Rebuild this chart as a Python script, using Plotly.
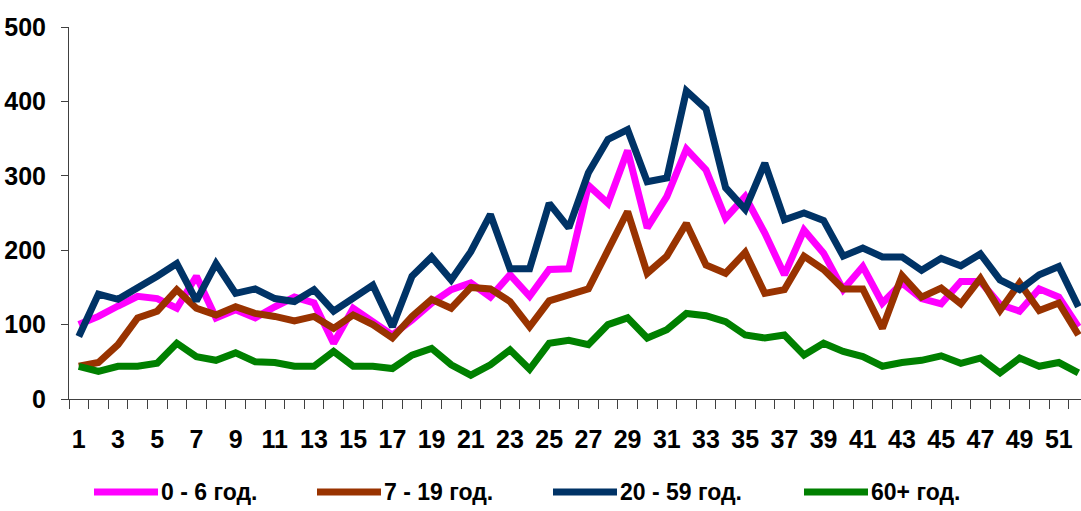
import plotly.graph_objects as go

weeks = list(range(1, 53))
x_labels = [str(w) for w in range(1, 52, 2)]
y_ticks = [0, 100, 200, 300, 400, 500]

series_names = ["0 - 6 год.", "7 - 19 год.", "20 - 59 год.", "60+ год."]
series_colors = ["#FF00FF", "#993300", "#003366", "#008000"]

age_0_6 = [100, 111, 125, 138, 135, 122, 165, 109, 120, 109,
           124, 137, 129, 75, 122, 104, 86, 106, 129, 147,
           156, 137, 167, 138, 174, 175, 287, 263, 334, 230,
           272, 336, 308, 243, 272, 223, 167, 227, 196, 147,
           178, 129, 156, 135, 128, 158, 158, 127, 118, 148,
           137, 97]
age_7_19 = [44, 49, 73, 109, 118, 147, 122, 113, 124, 115,
            111, 105, 111, 95, 113, 100, 82, 111, 134, 122,
            150, 148, 131, 97, 132, 140, 148, 200, 252, 169,
            192, 236, 180, 169, 197, 142, 147, 192, 174, 148,
            148, 95, 166, 137, 149, 128, 162, 119, 156, 119,
            129, 86]
age_20_59 = [84, 141, 134, 149, 165, 182, 132, 182, 142, 148,
             135, 131, 147, 118, 135, 153, 97, 165, 191, 160,
             198, 248, 175, 175, 263, 230, 304, 349, 362, 292,
             297, 414, 390, 284, 255, 317, 241, 250, 240, 192,
             203, 191, 191, 173, 189, 179, 195, 160, 147, 167,
             178, 124]
age_60 = [44, 37, 44, 44, 48, 75, 57, 52, 62, 50,
          49, 44, 44, 64, 44, 44, 41, 59, 68, 46,
          32, 46, 66, 40, 75, 79, 73, 100, 109, 82,
          93, 115, 112, 104, 86, 82, 86, 59, 75, 64,
          57, 44, 49, 52, 58, 48, 55, 35, 55, 44,
          49, 35]

all_series = [age_0_6, age_7_19, age_20_59, age_60]

FONT = "Liberation Sans Narrow, Arial Narrow, Liberation Sans, Arial, sans-serif"
TICKFONT = dict(family=FONT, size=25, color="black", weight="bold")

fig = go.Figure()
for name, color, vals in zip(series_names, series_colors, all_series):
    fig.add_trace(go.Scatter(
        x=weeks, y=vals, name=name, mode="lines",
        line=dict(color=color, width=7), showlegend=False,
    ))

W, H = 1081, 511
ml, mt, mb = 69, 27, 112
axis_color = "#404040"

fig.update_layout(
    width=W, height=H,
    margin=dict(l=ml, r=0, t=mt, b=mb),
    paper_bgcolor="white", plot_bgcolor="white",
    font=dict(family=FONT, size=25, color="black"),
    xaxis=dict(
        range=[0.5, 0.5 + (W - ml) / 19.6],
        tickmode="array", tickvals=[int(v) for v in x_labels], ticktext=x_labels,
        ticks="", showline=True, linecolor=axis_color, linewidth=1,
        showgrid=False, zeroline=False,
        tickfont=TICKFONT,
        ticklabelstandoff=18,
        minor=dict(ticks="outside", tick0=0.5, dtick=1, ticklen=9,
                   tickcolor=axis_color, tickwidth=1, showgrid=False),
    ),
    yaxis=dict(
        range=[0, 500], tickvals=y_ticks,
        ticks="outside", ticklen=7, tickcolor=axis_color, tickwidth=1,
        showline=True, linecolor=axis_color, linewidth=1,
        showgrid=False, zeroline=False,
        tickfont=TICKFONT,
        ticklabelstandoff=10,
    ),
)

# custom legend at bottom (line sample + label)
legend_x = [94, 317, 553, 804]
legend_y = 492
for name, color, lx in zip(series_names, series_colors, legend_x):
    fig.add_shape(type="line", xref="paper", yref="paper",
                  x0=(lx - ml) / (W - ml), x1=(lx + 64 - ml) / (W - ml),
                  y0=(H - mb - legend_y) / (H - mt - mb),
                  y1=(H - mb - legend_y) / (H - mt - mb),
                  line=dict(color=color, width=7))
    fig.add_annotation(xref="paper", yref="paper",
                       x=(lx + 65 - ml) / (W - ml),
                       y=(H - mb - legend_y) / (H - mt - mb),
                       text=name, showarrow=False, xanchor="left", yanchor="middle",
                       font=dict(family=FONT, size=23, color="black", weight="bold"))

fig.write_html("out.html",
               config={"displayModeBar": False},
               post_script="document.body.style.margin='0';document.body.style.overflow='hidden';")
